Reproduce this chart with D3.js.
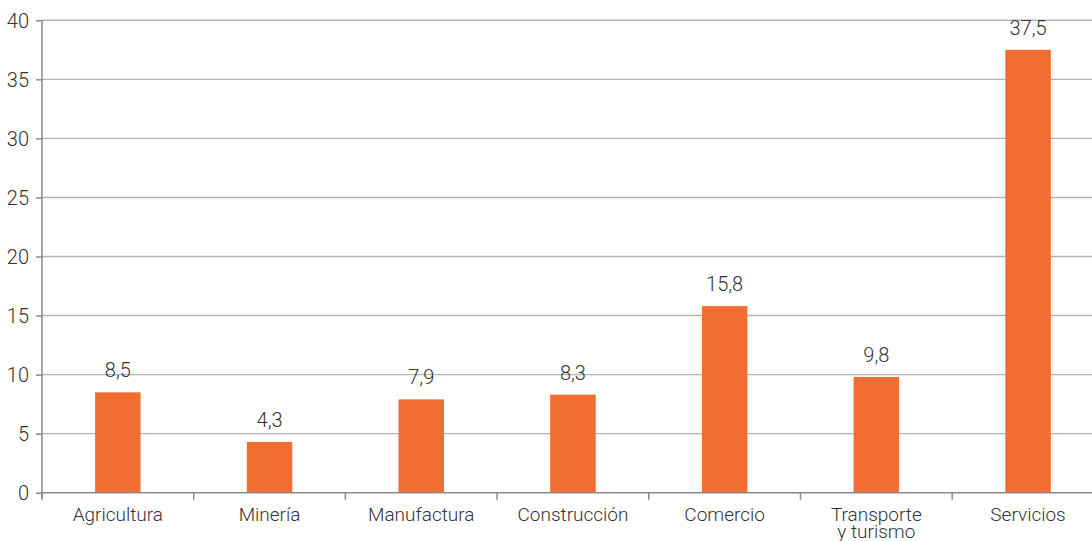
<!DOCTYPE html>
<html><head><meta charset="utf-8">
<script src="https://cdn.jsdelivr.net/npm/d3@7"></script>
<style>
html,body{margin:0;padding:0;background:#fff;}
svg{display:block;}
text{font-family:Roboto,"Liberation Sans Narrow",sans-serif;font-weight:300;fill:#333;}
</style></head>
<body>
<svg id="c" width="1092" height="541"></svg>
<script>
const categories = ["Agricultura","Minería","Manufactura","Construcción","Comercio","Transporte\ny turismo","Servicios"];
const values = [8.5, 4.3, 7.9, 8.3, 15.8, 9.8, 37.5];
const yTicks = [0,5,10,15,20,25,30,35,40];

(function(){
const svg = d3.select("#c");
const left = 42, topY = 20.3, bottomY = 492.7, step = 151.7;
const x = d3.scaleBand().domain(categories).range([left, left + step*categories.length]).paddingInner(0.7).paddingOuter(0.35);
const y = d3.scaleLinear().domain([0,40]).range([bottomY, topY]);

// gridlines
svg.append("g").selectAll("line").data(yTicks.filter(d=>d>0)).join("line")
  .attr("x1", left).attr("x2", 1092)
  .attr("y1", d=>y(d)).attr("y2", d=>y(d))
  .attr("stroke","#b4b4b4").attr("stroke-width",1.4);

// bars
svg.append("g").selectAll("rect").data(values).join("rect")
  .attr("x",(d,i)=>x(categories[i]))
  .attr("width",x.bandwidth())
  .attr("y",d=>y(d))
  .attr("height",d=>y(0)-y(d))
  .attr("fill","#f26d31");

// value labels
const fmt = d3.formatLocale({decimal:",",thousands:".",grouping:[3],currency:["",""]}).format(".1f");
svg.append("g").selectAll("text").data(values).join("text")
  .attr("x",(d,i)=>x(categories[i])+x.bandwidth()/2)
  .attr("y",d=>y(d)-15)
  .attr("text-anchor","middle")
  .attr("font-size",20)
  .text(d=>fmt(d));

// y axis
const yAxis = d3.axisLeft(y).tickValues(yTicks).tickSize(6).tickPadding(7).tickFormat(d3.format("d"));
const gy = svg.append("g").attr("transform",`translate(${left},0)`).call(yAxis);
gy.attr("font-family",null).attr("font-size",null);
gy.select(".domain").attr("stroke","#8a8a8a").attr("stroke-width",1.5).attr("d",`M0,${topY}V${bottomY+6}`);
gy.selectAll(".tick line").attr("stroke","#8a8a8a").attr("stroke-width",1.5);
gy.selectAll(".tick text").attr("font-size",20).attr("fill","#333").attr("dy","0.36em");

// x axis baseline
svg.append("line").attr("x1",left).attr("x2",1092).attr("y1",bottomY).attr("y2",bottomY)
  .attr("stroke","#8a8a8a").attr("stroke-width",1.5);
// x ticks at band boundaries
const bounds = d3.range(categories.length+1).map(i=>left + i*step);
svg.append("g").selectAll("line").data(bounds).join("line")
  .attr("x1",d=>d).attr("x2",d=>d).attr("y1",bottomY).attr("y2",bottomY+7)
  .attr("stroke","#8a8a8a").attr("stroke-width",1.5);

// x labels
const xl = svg.append("g").selectAll("text").data(categories).join("text")
  .attr("x",d=>x(d)+x.bandwidth()/2)
  .attr("y",521)
  .attr("text-anchor","middle")
  .attr("font-size",19);
xl.each(function(d){
  const lines = d.split("\n");
  d3.select(this).selectAll("tspan").data(lines).join("tspan")
    .attr("x", x(d)+x.bandwidth()/2)
    .attr("dy",(l,i)=>i===0?0:17)
    .text(l=>l);
});
})();
</script>
</body></html>
